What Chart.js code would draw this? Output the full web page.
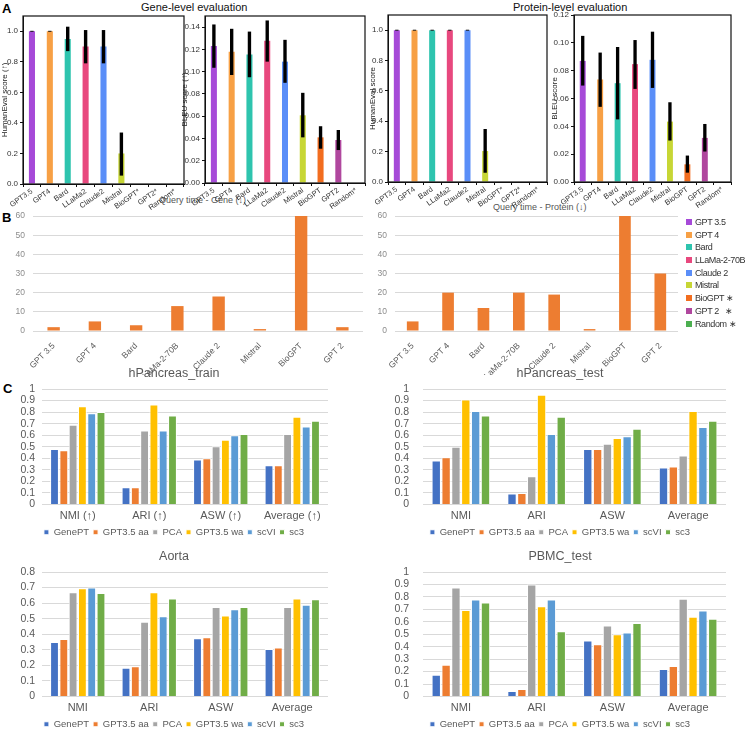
<!DOCTYPE html>
<html lang="en">
<head>
<meta charset="UTF-8">
<title>LLM evaluation figure</title>
<style>
  body { margin: 0; background: #fff; font-family: "Liberation Sans", Arial, sans-serif; }
  #fig { position: relative; width: 748px; height: 729px; overflow: hidden; }
  canvas { position: absolute; }
  .txt { position: absolute; white-space: nowrap; line-height: 1; }
  .panel { font-weight: bold; font-size: 13px; color: #000; }
  .head { font-size: 11px; color: #111; }
  .axis { font-size: 9px; color: #555; }
  #modelLegend { position: absolute; left: 686px; top: 216px; font-size: 9px; letter-spacing: -0.4px; color: #333; }
  #modelLegend div { height: 12.7px; line-height: 12.7px; white-space: nowrap; }
  #modelLegend span { display: inline-block; width: 6px; height: 6px; margin-right: 3px; vertical-align: 0px; }
</style>
<script src="https://cdn.jsdelivr.net/npm/chart.js"></script>
</head>
<body>
<div id="fig">
  <div class="txt panel" style="left:2px;top:2px;">A</div>
  <div class="txt head" style="left:141px;top:2px;">Gene-level evaluation</div>
  <div class="txt head" style="left:513px;top:2px;">Protein-level evaluation</div>
  <div class="txt axis" style="left:159px;top:196px;">Query time - Gene (↓)</div>
  <div class="txt axis" style="left:493px;top:203px;">Query time - Protein (↓)</div>
  <div class="txt panel" style="left:2px;top:211px;">B</div>
  <div class="txt panel" style="left:3px;top:382px;">C</div>

  <canvas id="a1" width="188" height="212" style="left:0;top:0;"></canvas>
  <canvas id="a2" width="190" height="212" style="left:180px;top:0;"></canvas>
  <canvas id="a3" width="184" height="212" style="left:368px;top:0;"></canvas>
  <canvas id="a4" width="198" height="212" style="left:550px;top:0;"></canvas>

  <canvas id="b1" width="370" height="175" style="left:0;top:200px;"></canvas>
  <canvas id="b2" width="315" height="175" style="left:370px;top:200px;"></canvas>
  <div id="modelLegend"></div>

  <canvas id="c1" width="374" height="187" style="left:0;top:360px;"></canvas>
  <canvas id="c2" width="374" height="187" style="left:374px;top:360px;"></canvas>
  <canvas id="c3" width="374" height="196" style="left:0;top:543px;"></canvas>
  <canvas id="c4" width="374" height="196" style="left:374px;top:543px;"></canvas>
</div>
<script>
// ---- panel A: evaluation scores ----
const modelsStar = ['GPT3.5', 'GPT4', 'Bard', 'LLaMa2', 'Claude2', 'Mistral', 'BioGPT*', 'GPT2*', 'Random*'];
const modelsPlain = ['GPT3.5', 'GPT4', 'Bard', 'LLaMa2', 'Claude2', 'Mistral', 'BioGPT', 'GPT2', 'Random*'];
const modelColors = ['#a64ad8', '#f7a045', '#2ec4ae', '#e8487e', '#5a8ef8', '#c7d635', '#f26d1f', '#b0479e', '#4caf50'];
const legendNames = ['GPT 3.5', 'GPT 4', 'Bard', 'LLaMa-2-70B', 'Claude 2', 'Mistral', 'BioGPT \u2217', 'GPT 2 \u00a0\u00a0\u2217', 'Random \u2217'];

const geneHuman = [1.0, 1.0, 0.95, 0.90, 0.90, 0.20, 0, 0, 0];
const geneHumanLo = [0.997, 0.997, 0.87, 0.79, 0.79, 0.055, null, null, null];
const geneHumanHi = [1.003, 1.003, 1.03, 1.008, 1.008, 0.337, null, null, null];

const geneBleu = [0.123, 0.118, 0.1155, 0.1277, 0.109, 0.0608, 0.041, 0.0386, 0];
const geneBleuLo = [0.1035, 0.097, 0.095, 0.109, 0.090, 0.041, 0.0308, 0.0296, null];
const geneBleuHi = [0.1424, 0.1385, 0.136, 0.146, 0.1286, 0.081, 0.051, 0.0476, null];

const protHuman = [1.0, 1.0, 1.0, 1.0, 1.0, 0.204, 0, 0, 0];
const protHumanLo = [0.997, 0.997, 0.997, 0.997, 0.997, 0.061, null, null, null];
const protHumanHi = [1.003, 1.003, 1.003, 1.003, 1.003, 0.349, null, null, null];

const protBleu = [0.087, 0.0737, 0.071, 0.0847, 0.0878, 0.0434, 0.0127, 0.0317, 0];
const protBleuLo = [0.0693, 0.054, 0.045, 0.0669, 0.0676, 0.0298, 0.0067, 0.0219, null];
const protBleuHi = [0.105, 0.093, 0.097, 0.102, 0.108, 0.0573, 0.019, 0.0417, null];

// ---- panel B: query time ----
const modelsB = ['GPT 3.5', 'GPT 4', 'Bard', 'LLaMa-2-70B', 'Claude 2', 'Mistral', 'BioGPT', 'GPT 2'];
const timeGene = [2, 5, 3, 13, 18, 1, 60, 2];
const timeProtein = [5, 20, 12, 20, 19, 1, 60, 30];

// ---- panel C: clustering metrics (rows = methods, cols = metrics) ----
const metricsArrow = ['NMI (↑)', 'ARI (↑)', 'ASW (↑)', 'Average (↑)'];
const metrics = ['NMI', 'ARI', 'ASW', 'Average'];
const methods = ['GenePT', 'GPT3.5 aa', 'PCA', 'GPT3.5 wa', 'scVI', 'sc3'];
const methodColors = ['#4472c4', '#ed7d31', '#a5a5a5', '#ffc000', '#5b9bd5', '#70ad47'];

const pancTrain = [
  [0.48, 0.15, 0.39, 0.34],
  [0.47, 0.15, 0.40, 0.34],
  [0.69, 0.64, 0.505, 0.61],
  [0.85, 0.865, 0.56, 0.76],
  [0.79, 0.64, 0.60, 0.675],
  [0.80, 0.77, 0.61, 0.725]
];
const pancTest = [
  [0.38, 0.095, 0.48, 0.32],
  [0.41, 0.10, 0.48, 0.33],
  [0.50, 0.245, 0.525, 0.425],
  [0.91, 0.95, 0.575, 0.81],
  [0.81, 0.61, 0.59, 0.67],
  [0.77, 0.76, 0.655, 0.725]
];
const aorta = [
  [0.35, 0.185, 0.375, 0.305],
  [0.37, 0.195, 0.38, 0.315],
  [0.67, 0.48, 0.575, 0.575],
  [0.695, 0.67, 0.52, 0.63],
  [0.70, 0.515, 0.56, 0.59],
  [0.665, 0.63, 0.575, 0.625]
];
const pbmcTest = [
  [0.175, 0.045, 0.45, 0.22],
  [0.255, 0.06, 0.42, 0.245],
  [0.875, 0.90, 0.57, 0.785],
  [0.695, 0.725, 0.50, 0.64],
  [0.78, 0.78, 0.515, 0.69],
  [0.755, 0.525, 0.59, 0.625]
];

Chart.defaults.font.family = '"Liberation Sans", Arial, sans-serif';
Chart.defaults.animation = false;

// box around the plot area, like the original panel A frames
const framePlugin = {
  id: 'frame',
  afterDraw(chart) {
    const a = chart.chartArea, c = chart.ctx;
    c.save();
    c.strokeStyle = '#111';
    c.lineWidth = 1.2;
    c.strokeRect(a.left, a.top, a.right - a.left, a.bottom - a.top);
    c.restore();
  }
};

function evalChart(id, labels, vals, lo, hi, yMax, step, digits, yTitle, yWidth, padTop, padRight, xHeight) {
  const errs = lo.map((l, i) => (l === null ? null : [l, hi[i]]));
  new Chart(document.getElementById(id), {
    type: 'bar',
    data: {
      labels: labels,
      datasets: [
        { data: vals, backgroundColor: modelColors, barPercentage: 0.34, categoryPercentage: 1, grouped: false, order: 2 },
        { data: errs, backgroundColor: '#000', barPercentage: 0.19, categoryPercentage: 1, grouped: false, order: 1 }
      ]
    },
    options: {
      responsive: false,
      layout: { padding: { top: padTop, right: padRight, left: 0, bottom: 0 } },
      plugins: { legend: { display: false }, tooltip: { enabled: false } },
      scales: {
        x: {
          grid: { display: true, drawOnChartArea: false, tickLength: 3, color: '#111' },
          border: { color: '#111' },
          ticks: { autoSkip: false, font: { size: 7.5 }, color: '#333', minRotation: 35, maxRotation: 35, padding: 0 },
          afterFit(s) { s.height = xHeight; }
        },
        y: {
          min: 0, max: yMax,
          grid: { display: true, drawOnChartArea: false, tickLength: 3, color: '#111' },
          border: { color: '#111' },
          ticks: { autoSkip: false, stepSize: step, includeBounds: false, font: { size: 8 }, color: '#333', padding: 2,
                   callback: v => v.toFixed(digits) },
          title: { display: true, text: yTitle, font: { size: 8 }, color: '#222', padding: 0 },
          afterFit(s) { s.width = yWidth; }
        }
      }
    },
    plugins: [framePlugin]
  });
}

evalChart('a1', modelsStar, geneHuman, geneHumanLo, geneHumanHi, 1.1, 0.2, 1, 'HumanEval score (↑)', 23, 16, 4, 28);
evalChart('a2', modelsPlain, geneBleu, geneBleuLo, geneBleuHi, 0.15, 0.02, 2, 'BLEU score (↑)', 25, 16, 5, 29);
evalChart('a3', modelsStar, protHuman, protHumanLo, protHumanHi, 1.1, 0.2, 1, 'HumanEval score', 20, 15, 5, 30);
evalChart('a4', modelsPlain, protBleu, protBleuLo, protBleuHi, 0.12, 0.02, 2, 'BLEU score', 24, 15, 17, 30);

function timeChart(id, vals, yWidth, padRight, barPct) {
  new Chart(document.getElementById(id), {
    type: 'bar',
    data: {
      labels: modelsB,
      datasets: [{ data: vals, backgroundColor: '#ed7d31', barPercentage: barPct, categoryPercentage: 1 }]
    },
    options: {
      responsive: false,
      layout: { padding: { top: 16, right: padRight, left: 0, bottom: 0 } },
      plugins: { legend: { display: false }, tooltip: { enabled: false } },
      scales: {
        x: {
          grid: { display: false },
          border: { display: false },
          ticks: { autoSkip: false, font: { size: 8.5 }, color: '#595959', minRotation: 45, maxRotation: 45, padding: 2 },
          afterFit(s) { s.height = 44; }
        },
        y: {
          min: 0, max: 60,
          grid: { color: '#d9d9d9', drawTicks: false },
          border: { display: false },
          ticks: { autoSkip: false, stepSize: 10, font: { size: 8.5 }, color: '#8c8c8c', padding: 8 },
          afterFit(s) { s.width = yWidth; }
        }
      }
    }
  });
}

timeChart('b1', timeGene, 33, 7, 0.3);
timeChart('b2', timeProtein, 25, 7, 0.33);

// legend of model colours next to panel B
const legendBox = document.getElementById('modelLegend');
legendNames.forEach((name, i) => {
  const row = document.createElement('div');
  const sw = document.createElement('span');
  sw.style.background = modelColors[i];
  row.appendChild(sw);
  row.appendChild(document.createTextNode(name));
  legendBox.appendChild(row);
});

function clusterChart(id, title, labels, rows, yMax, padLeft, yWidth, tickPad, padRight) {
  new Chart(document.getElementById(id), {
    type: 'bar',
    data: {
      labels: labels,
      datasets: methods.map((m, i) => ({
        label: m, data: rows[i], backgroundColor: methodColors[i],
        borderColor: '#fff', borderWidth: 1, barPercentage: 0.95, categoryPercentage: 0.78
      }))
    },
    options: {
      responsive: false,
      layout: { padding: { top: 0, right: padRight, left: padLeft, bottom: 0 } },
      plugins: {
        tooltip: { enabled: false },
        title: { display: true, text: title, color: '#595959', font: { size: 12.5, weight: 'normal' }, padding: { top: 6, bottom: 8 } },
        legend: { position: 'bottom', labels: { boxWidth: 5, boxHeight: 5, font: { size: 9.5 }, color: '#595959', padding: 4 } }
      },
      scales: {
        x: {
          grid: { display: false, drawTicks: false, tickLength: 0 },
          border: { display: false },
          ticks: { autoSkip: false, font: { size: 11 }, color: '#595959', padding: 5 },
          afterFit(s) { s.height = 19; }
        },
        y: {
          min: 0, max: yMax,
          grid: { color: '#d9d9d9', drawTicks: false },
          border: { display: false },
          ticks: { autoSkip: false, stepSize: 0.1, font: { size: 10.5 }, color: '#595959', padding: tickPad,
                   callback: v => String(Math.round(v * 10) / 10) },
          afterFit(s) { s.width = yWidth; }
        }
      }
    }
  });
}

clusterChart('c1', 'hPancreas_train', metricsArrow, pancTrain, 1, 20, 22, 7, 46);
clusterChart('c2', 'hPancreas_test', metrics, pancTest, 1, 20, 29, 14, 22);
clusterChart('c3', 'Aorta', metrics, aorta, 0.8, 20, 22, 7, 46);
clusterChart('c4', 'PBMC_test', metrics, pbmcTest, 1, 20, 29, 14, 22);
</script>
</body>
</html>
